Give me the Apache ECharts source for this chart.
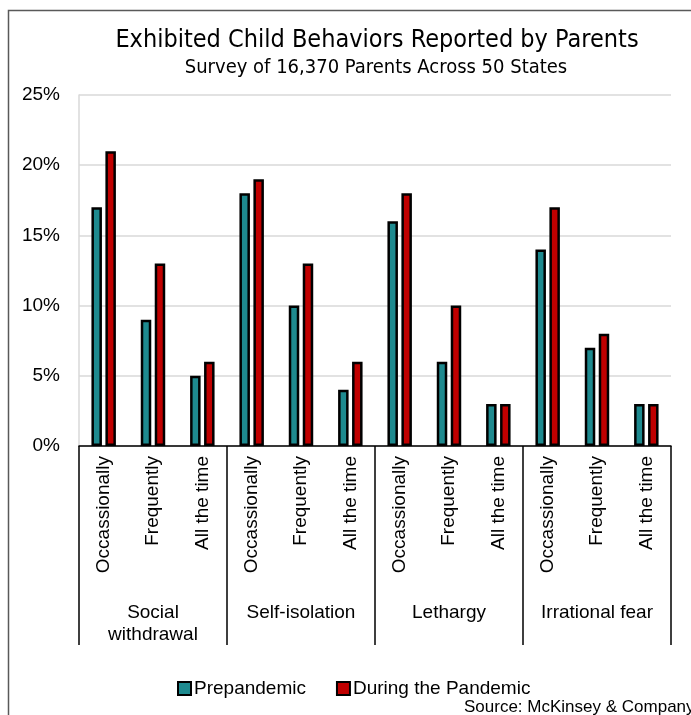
<!DOCTYPE html>
<html>
<head>
<meta charset="utf-8">
<script src="https://cdn.jsdelivr.net/npm/echarts@6/dist/echarts.min.js"></script>
<style>
  html, body { margin: 0; padding: 0; background: #fff; }
  #chart { width: 691px; height: 715px; }
</style>
</head>
<body>
<div id="chart"></div>
<script>
// Behaviour groups and frequency levels (two-level category axis)
const groups = ['Social\nwithdrawal', 'Self-isolation', 'Lethargy', 'Irrational fear'];
const levels = ['Occassionally', 'Frequently', 'All the time'];

// Share of parents reporting each behaviour, in percent
const prepandemic = [17, 9, 5, 18, 10, 4, 16, 6, 3, 14, 7, 3];
const duringPandemic = [21, 13, 6, 19, 13, 6, 18, 10, 3, 17, 8, 3];

const yTicks = [0, 5, 10, 15, 20, 25];

const categories = [];
groups.forEach(() => levels.forEach(l => categories.push(l)));

const FONT = '"Liberation Sans", Arial, sans-serif';
const NARROW = '"Liberation Sans Narrow", "DejaVu Sans Condensed", "Liberation Sans", sans-serif';

const chart = echarts.init(document.getElementById('chart'), null, { renderer: 'canvas' });

chart.setOption({
  backgroundColor: '#ffffff',
  animation: false,
  graphic: [{
    type: 'rect',
    left: 6, top: 8,
    shape: { width: 720, height: 740 },
    style: { fill: 'none', stroke: '#595959', lineWidth: 1.5 },
    silent: true
  }],
  title: [{
    text: 'Exhibited Child Behaviors Reported by Parents',
    left: 372, top: 23, textAlign: 'center',
    textStyle: { fontFamily: NARROW, fontSize: 25, fontWeight: 'normal', color: '#000' }
  }, {
    text: 'Survey of 16,370 Parents Across 50 States',
    left: 371, top: 53, textAlign: 'center',
    textStyle: { fontFamily: NARROW, fontSize: 20, fontWeight: 'normal', color: '#000' }
  }, {
    text: 'Source: McKinsey & Company',
    left: 459, top: 694,
    textStyle: { fontFamily: FONT, fontSize: 17, fontWeight: 'normal', color: '#000' }
  }],
  legend: {
    left: 172, top: 674,
    itemWidth: 13, itemHeight: 13, itemGap: 30,
    icon: 'rect',
    textStyle: { fontFamily: FONT, fontSize: 19, color: '#000', padding: [0, 0, 0, -2] },
    data: ['Prepandemic', 'During the Pandemic']
  },
  grid: { left: 79, right: 20, top: 95, bottom: 269, containLabel: false },
  xAxis: [{
    type: 'category',
    data: categories,
    position: 'bottom',
    axisLine: { show: true, lineStyle: { color: '#000', width: 1.5 } },
    axisTick: { show: false },
    axisLabel: {
      rotate: 90, margin: 10, interval: 0,
      fontFamily: FONT, fontSize: 19, color: '#000'
    },
    splitLine: { show: false }
  }, {
    type: 'category',
    data: groups,
    position: 'bottom',
    axisLine: { show: false },
    axisTick: { show: true, inside: false, length: 199, lineStyle: { color: '#000', width: 1.5 } },
    axisLabel: {
      margin: 156, interval: 0, lineHeight: 22,
      fontFamily: FONT, fontSize: 19, color: '#000', verticalAlign: 'top'
    },
    splitLine: { show: false }
  }],
  yAxis: {
    type: 'value',
    min: yTicks[0], max: yTicks[yTicks.length - 1], interval: 5,
    axisLine: { show: true, lineStyle: { color: '#d9d9d9', width: 1.5 } },
    axisTick: { show: false },
    axisLabel: {
      margin: 19, formatter: '{value}%',
      fontFamily: FONT, fontSize: 19, color: '#000'
    },
    splitLine: { show: true, lineStyle: { color: '#d9d9d9', width: 1.5 } }
  },
  series: [{
    name: 'Prepandemic',
    type: 'bar',
    xAxisIndex: 0,
    data: prepandemic,
    barWidth: 10.5,
    barGap: '33%',
    itemStyle: { color: '#1e8a8f', borderColor: '#000', borderWidth: 2.5 }
  }, {
    name: 'During the Pandemic',
    type: 'bar',
    xAxisIndex: 0,
    data: duringPandemic,
    barWidth: 10.5,
    barGap: '33%',
    itemStyle: { color: '#c00000', borderColor: '#000', borderWidth: 2.5 }
  }]
});
</script>
</body>
</html>
